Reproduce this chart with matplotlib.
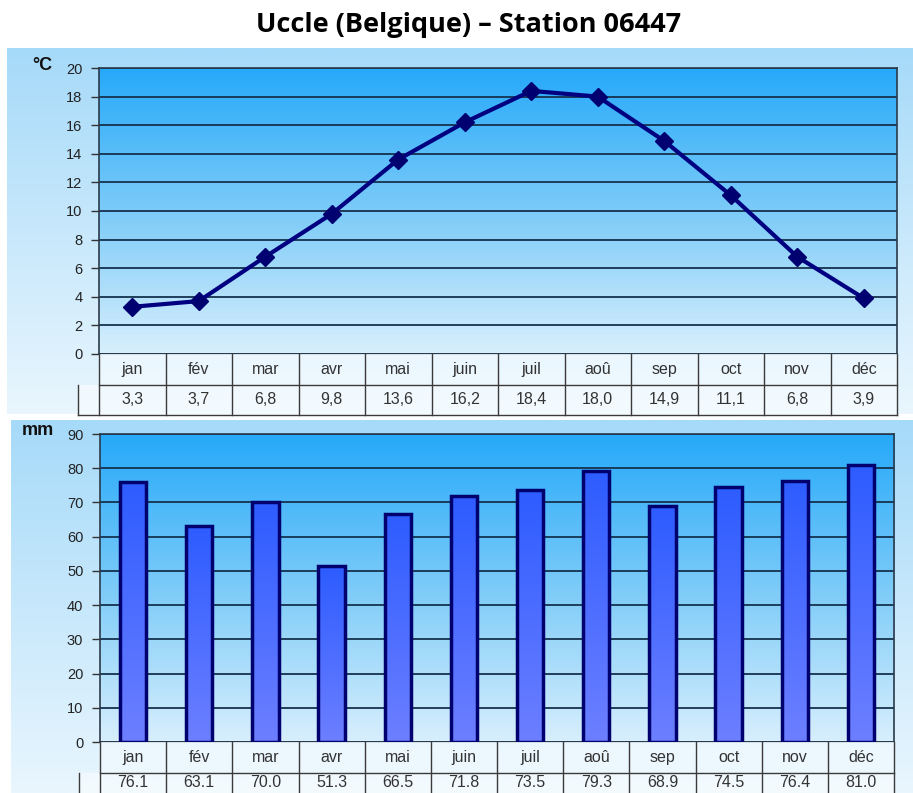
import numpy as np
import matplotlib
matplotlib.use("Agg")
import matplotlib.pyplot as plt
from matplotlib.colors import LinearSegmentedColormap
from matplotlib.patches import Rectangle

# data
months = ["jan", "fév", "mar", "avr", "mai", "juin", "juil", "aoû", "sep", "oct", "nov", "déc"]
temp = [3.3, 3.7, 6.8, 9.8, 13.6, 16.2, 18.4, 18.0, 14.9, 11.1, 6.8, 3.9]
prec = [76.1, 63.1, 70.0, 51.3, 66.5, 71.8, 73.5, 79.3, 68.9, 74.5, 76.4, 81.0]
temp_ticks = list(range(0, 21, 2))
prec_ticks = list(range(0, 91, 10))

plt.rcParams['font.family'] = ['Liberation Sans', 'DejaVu Sans']

W, H = 913, 793
fig = plt.figure(figsize=(W / 100, H / 100), dpi=100)
fig.patch.set_facecolor('white')

def fbox(x0, y0, x1, y1):
    # pixel box (top-left origin) -> figure rect
    return [x0 / W, 1 - y1 / H, (x1 - x0) / W, (y1 - y0) / H]

outer_cmap = LinearSegmentedColormap.from_list('outer', ['#a6daf9', '#e9f6fe'])
plot_cmap = LinearSegmentedColormap.from_list('plot', ['#26a9fa', '#7ccbf8', '#d8effd'])
bar_cmap = LinearSegmentedColormap.from_list('bar', ['#2d5cff', '#6d7fff'])
grad = np.linspace(0, 1, 256).reshape(-1, 1)


def panel(bg, plot, tab, ylab, ylim, ticks):
    axbg = fig.add_axes(fbox(*bg), zorder=0)
    axbg.imshow(grad, aspect='auto', cmap=outer_cmap, extent=[0, 1, 0, 1])
    axbg.axis('off')

    ax = fig.add_axes(fbox(*plot), zorder=2)
    ax.set_xlim(-0.5, 11.5)
    ax.set_ylim(*ylim)
    ax.imshow(grad, aspect='auto', cmap=plot_cmap,
              extent=[-0.5, 11.5, ylim[0], ylim[1]], zorder=0)
    ax.set_yticks(ticks)
    ax.set_xticks([])
    ax.yaxis.grid(True, color='#14324e', lw=1.3)
    ax.set_axisbelow(True)
    ax.tick_params(axis='y', length=6, width=1, color='#333333', pad=6,
                   labelsize=10.5, labelcolor='#222222')
    for s in ax.spines.values():
        s.set_color('#2b3a4a')
        s.set_linewidth(1.2)
    ax.text(-0.058, 1.01, ylab, transform=ax.transAxes, ha='right', va='center',
            fontsize=13, fontweight='bold', color='#111111')

    # data table below the axis
    axt = fig.add_axes(fbox(*tab), zorder=2)
    axt.set_xlim(-0.5, 11.5)
    axt.set_ylim(0, 2)
    axt.axis('off')
    return ax, axt


def table(axt, labels, fmt_vals, vy=0.5):
    lc = '#3a3a3a'
    axt.add_patch(Rectangle((-0.5, 1), 12, 1, fc='#eef8ff', ec='none', alpha=0.85, zorder=0))
    axt.add_patch(Rectangle((-0.82, 0), 12.32, 1, fc='#f4fbff', ec='none', alpha=0.85,
                            zorder=0, clip_on=False))
    axt.plot([-0.5, 11.5], [1, 1], color=lc, lw=1, clip_on=False)
    axt.plot([-0.82, 11.5], [0, 0], color=lc, lw=1, clip_on=False)
    axt.plot([-0.82, -0.82], [0, 1], color=lc, lw=1, clip_on=False)
    for k in range(13):
        axt.plot([k - 0.5, k - 0.5], [0, 2], color=lc, lw=1, clip_on=False)
    for i, (lab, v) in enumerate(zip(labels, fmt_vals)):
        axt.text(i, 1.5, lab, ha='center', va='center', fontsize=11.5, color='#333333')
        axt.text(i, vy, v, ha='center', va='center', fontsize=11.5, color='#333333')


x = np.arange(len(months))

# temperature panel
ax1, at1 = panel((7, 48, 913, 414), (99, 68, 897, 354), (99, 354, 897, 415), '°C', (0, 20), temp_ticks)
ax1.plot(x, temp, color='#000080', lw=3, marker='D', ms=9, mfc='#000070', mec='#000070', zorder=3)
table(at1, months, [f"{v:.1f}".replace('.', ',') for v in temp])

# precipitation panel
ax2, at2 = panel((11, 420, 913, 793), (100, 434, 894, 742), (100, 742, 894, 804), 'mm', (0, 90), prec_ticks)
bars = ax2.bar(x, prec, width=0.4, color='none', edgecolor='#00006e', lw=2.5, zorder=3)
for b in bars:
    x0, y0 = b.get_x(), b.get_y()
    ax2.imshow(grad, aspect='auto', cmap=bar_cmap, zorder=2,
               extent=[x0, x0 + b.get_width(), y0, y0 + b.get_height()])
ax2.set_xlim(-0.5, 11.5)
ax2.set_ylim(0, 90)
table(at2, months, [f"{v:.1f}" for v in prec], vy=0.68)

fig.text(469 / W, 1 - 25 / H, "Uccle (Belgique) – Station 06447", ha='center', va='center',
         fontsize=19.5, fontweight='bold', family=['Open Sans', 'DejaVu Sans'])

fig.savefig('out.png', dpi=100)
